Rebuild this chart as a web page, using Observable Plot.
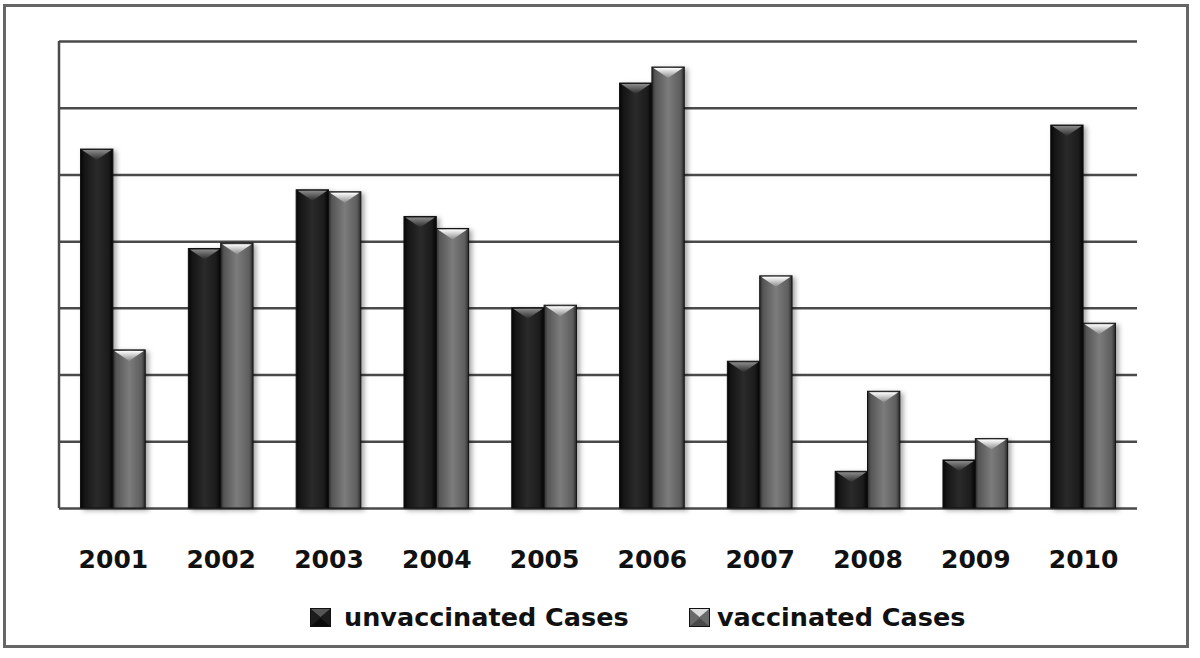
<!DOCTYPE html>
<html>
<head>
<meta charset="utf-8">
<script src="https://cdn.jsdelivr.net/npm/d3@7"></script>
<script src="https://cdn.jsdelivr.net/npm/@observablehq/plot@0.6"></script>
<style>
  html, body { margin: 0; padding: 0; background: #fff; }
  body { position: relative; width: 1200px; height: 658px; overflow: hidden; font-family: "DejaVu Sans", sans-serif; }
  #frame { position: absolute; left: 3px; top: 4px; width: 1186px; height: 644px; box-sizing: border-box; border: 3px solid #666; }
  #chart { position: absolute; left: 0; top: 0; }
  #chart g[aria-label="bar"] rect { filter: drop-shadow(3px 2px 2.5px rgba(0,0,0,0.35)); }
  .legend { position: absolute; top: 602px; height: 30px; display: flex; align-items: center; font-weight: 700; font-size: 25.5px; color: #111; white-space: nowrap; font-family: "DejaVu Sans", sans-serif; }
</style>
</head>
<body>
<div id="frame"></div>
<div id="chart"></div>
<div class="legend" style="left:310px"><svg viewBox="0 0 21 19" style="width:21px;height:19px;margin-right:13px"><rect x="0.5" y="0.5" width="20" height="18" fill="#1c1c1c" stroke="#111"/><polygon points="1,1 20,1 10.5,9" fill="#555"/><polygon points="1,18 20,18 10.5,10" fill="#0a0a0a"/></svg>unvaccinated Cases</div>
<div class="legend" style="left:689px"><svg viewBox="0 0 21 19" style="width:21px;height:19px;margin-right:7px"><rect x="0.5" y="0.5" width="20" height="18" fill="#6a6a6a" stroke="#111"/><polygon points="1,1 20,1 10.5,9" fill="#ddd"/><polygon points="1,18 20,18 10.5,10" fill="#4a4a4a"/></svg>vaccinated Cases</div>
<script>
const years = ["2001","2002","2003","2004","2005","2006","2007","2008","2009","2010"];
const unvaccinated = [53.8, 38.9, 47.7, 43.7, 30.0, 63.7, 22.0, 5.5, 7.2, 57.4];
const vaccinated   = [23.7, 39.7, 47.4, 41.9, 30.4, 66.1, 34.8, 17.5, 10.4, 27.7];
const gridTicks = [0, 10, 20, 30, 40, 50, 60, 70];

const unvData = years.map((y, i) => ({year: y, value: unvaccinated[i], series: "unvaccinated Cases"}));
const vacData = years.map((y, i) => ({year: y, value: vaccinated[i], series: "vaccinated Cases"}));

const defs = () => {
  const d = d3.create("svg:defs");
  const g1 = d.append("linearGradient").attr("id", "gDark").attr("x1", 0).attr("x2", 1).attr("y1", 0).attr("y2", 0);
  [[0,"#050505"],[0.12,"#151515"],[0.5,"#2a2a2a"],[0.85,"#1c1c1c"],[1,"#050505"]].forEach(([o,c]) => g1.append("stop").attr("offset", o).attr("stop-color", c));
  const g2 = d.append("linearGradient").attr("id", "gLight").attr("x1", 0).attr("x2", 1).attr("y1", 0).attr("y2", 0);
  [[0,"#2a2a2a"],[0.1,"#555"],[0.5,"#7c7c7c"],[0.88,"#5e5e5e"],[1,"#2a2a2a"]].forEach(([o,c]) => g2.append("stop").attr("offset", o).attr("stop-color", c));
  const b1 = d.append("linearGradient").attr("id", "bDark").attr("x1", 0).attr("x2", 0).attr("y1", 0).attr("y2", 1);
  [[0,"#8a8a8a"],[1,"#2a2a2a"]].forEach(([o,c]) => b1.append("stop").attr("offset", o).attr("stop-color", c));
  const b2 = d.append("linearGradient").attr("id", "bLight").attr("x1", 0).attr("x2", 0).attr("y1", 0).attr("y2", 1);
  [[0,"#ffffff"],[1,"#8a8a8a"]].forEach(([o,c]) => b2.append("stop").attr("offset", o).attr("stop-color", c));
  return d.node();
};

const leftLine = (index, scales, values, dims) => {
  const g = d3.create("svg:line")
    .attr("x1", dims.marginLeft).attr("x2", dims.marginLeft)
    .attr("y1", scales.y(70)).attr("y2", scales.y(0))
    .attr("stroke", "#4a4a4a").attr("stroke-width", 2.5);
  return g.node();
};

const bevels = (index, scales) => {
  const g = d3.create("svg:g");
  const x = scales.x, y = scales.y;
  const bw = typeof x.bandwidth === "function" ? x.bandwidth() : 64.7;
  const half = bw / 2;
  years.forEach((yr, i) => {
    const x0 = x(yr);
    [[unvaccinated[i], x0, "url(#bDark)"], [vaccinated[i], x0 + half, "url(#bLight)"]].forEach(([v, xs, fill]) => {
      const yt = y(v);
      const h = Math.min(11, (y(0) - yt) - 1);
      g.append("polygon")
        .attr("points", `${xs + 1.5},${yt + 1} ${xs + half - 1.5},${yt + 1} ${xs + half / 2},${yt + h}`)
        .attr("fill", fill);
    });
  });
  return g.node();
};

const chart = Plot.plot({
  width: 1200,
  height: 580,
  marginLeft: 59,
  marginRight: 63,
  marginTop: 41,
  marginBottom: 72,
  style: {background: "transparent", overflow: "visible"},
  x: {domain: years, paddingInner: 0.4, paddingOuter: 0.2, round: false},
  y: {domain: [0, 70], axis: null},
  marks: [
    defs,
    Plot.ruleY(gridTicks, {stroke: "#4a4a4a", strokeWidth: 2.5}),
    leftLine,
    Plot.barY(unvData, {x: "year", y: "value", fill: "url(#gDark)", stroke: "#111", strokeWidth: 1, insetRight: 32.35}),
    Plot.barY(vacData, {x: "year", y: "value", fill: "url(#gLight)", stroke: "#111", strokeWidth: 1, insetLeft: 32.35}),
    bevels,
    Plot.axisX({tickSize: 0, tickPadding: 42, fontSize: 25, fontWeight: 700, fontFamily: "DejaVu Sans", fill: "#111", label: null})
  ]
});
document.getElementById("chart").appendChild(chart);
</script>
</body>
</html>
